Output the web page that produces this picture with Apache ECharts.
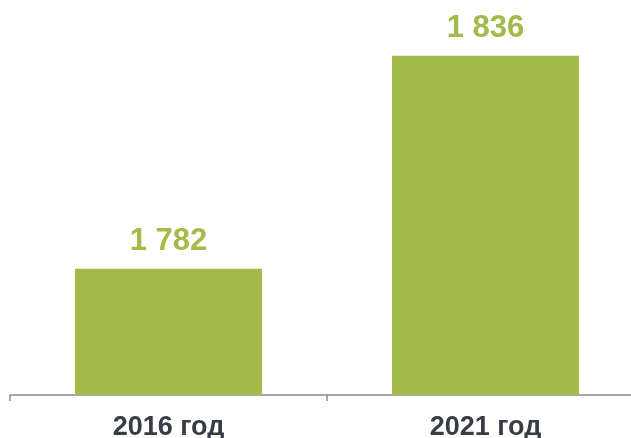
<!DOCTYPE html>
<html>
<head>
<meta charset="utf-8">
<script src="https://cdn.jsdelivr.net/npm/echarts@6/dist/echarts.min.js"></script>
<style>
html, body { margin: 0; padding: 0; background: #fff; }
#chart { width: 631px; height: 438px; }
</style>
</head>
<body>
<div id="chart"></div>
<script>
var years = ['2016 год', '2021 год'];
var values = [1782, 1836];

var barColor = '#a3bb48';
var textColor = '#383d45';

//столбцы
var mainChart = function () {
    var myChart = echarts.init(document.getElementById('chart'));
    var option = {
        animation: false,
        grid: {
            left: 10,
            width: 634,
            top: 40,
            height: 355,
            outerBoundsMode: 'none'
        },
        xAxis: {
            type: 'category',
            data: years,
            axisLine: {
                show: true,
                lineStyle: { color: '#8c8c8c', width: 1.5 }
            },
            axisTick: {
                show: true,
                length: 6,
                lineStyle: { color: '#8c8c8c', width: 1.5 }
            },
            axisLabel: {
                margin: 19,
                color: textColor,
                fontFamily: 'Liberation Sans, Arial, sans-serif',
                fontWeight: 'bold',
                fontSize: 27
            }
        },
        yAxis: {
            type: 'value',
            min: 1750,
            max: 1840,
            show: false
        },
        series: [{
            type: 'bar',
            data: values,
            barWidth: '59%',
            itemStyle: { color: barColor },
            label: {
                show: true,
                position: 'top',
                distance: 12,
                color: barColor,
                fontFamily: 'Liberation Sans, Arial, sans-serif',
                fontWeight: 'bold',
                fontSize: 31,
                formatter: function (p) {
                    return String(p.value).replace(/\B(?=(\d{3})+(?!\d))/g, ' ');
                }
            }
        }]
    };
    myChart.setOption(option);
};

mainChart();
</script>
</body>
</html>
